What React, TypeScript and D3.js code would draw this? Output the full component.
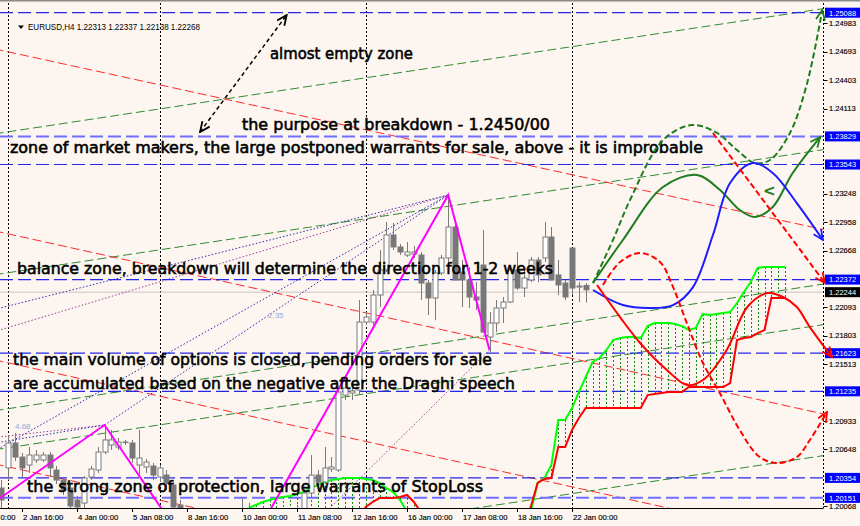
import React from "react";
import * as d3 from "d3";

// ---------------- data ----------------
const opens = [
  1.20251, 1.20455, 1.20709, 1.20566, 1.20485, 1.20536, 1.20536, 1.20587, 1.20434, 1.20332,
  1.20251, 1.20129, 1.20098, 1.20363, 1.20434, 1.20617, 1.20689, 1.20668, 1.20719, 1.20709,
  1.20485, 1.20465, 1.20475, 1.20363, 1.20383, 1.20281, 1.20078, 1.19925, 1.1975, 1.1968,
  1.1962, 1.195, 1.1935, 1.1928, 1.1945, 1.1965, 1.1995, 1.196, 1.1955, 1.196,
  1.197, 1.1965, 1.1985, 1.198, 1.199, 1.202, 1.20383, 1.20312, 1.20444, 1.20434,
  1.21197, 1.21218, 1.21248, 1.2194, 1.2194, 1.22215, 1.2247, 1.22826, 1.22704, 1.22622,
  1.22632, 1.22622, 1.22337, 1.22185, 1.22439, 1.22592, 1.22907, 1.22449, 1.22368, 1.22195,
  1.2252, 1.21788, 1.2193, 1.22083, 1.22144, 1.2247, 1.22286, 1.22368, 1.22571, 1.22592,
  1.22805, 1.22419, 1.22337, 1.22693, 1.22296, 1.22313,
];
const highs = [
  1.20332, 1.2079, 1.20811, 1.20607, 1.20668, 1.20638, 1.20617, 1.20617, 1.20475, 1.20353,
  1.20292, 1.2017, 1.20373, 1.20475, 1.20668, 1.20892, 1.20841, 1.2076, 1.2074, 1.2074,
  1.20841, 1.20546, 1.20506, 1.20485, 1.20434, 1.20312, 1.20129, 1.1999, 1.1982, 1.1975,
  1.197, 1.1956, 1.1942, 1.195, 1.197, 1.2015, 1.201, 1.1975, 1.197, 1.1975,
  1.198, 1.199, 1.2, 1.2008, 1.2024, 1.20587, 1.20434, 1.20668, 1.20566, 1.21269,
  1.21348, 1.21338, 1.22164, 1.22042, 1.22266, 1.22673, 1.22958, 1.22948, 1.22734, 1.22754,
  1.22714, 1.22653, 1.22368, 1.2247, 1.22622, 1.23233, 1.22948, 1.22571, 1.225, 1.22347,
  1.22876, 1.22042, 1.22164, 1.22195, 1.225, 1.22653, 1.2247, 1.22602, 1.22602, 1.22958,
  1.22907, 1.22571, 1.22368, 1.22693, 1.22347, 1.22337,
];
const lows = [
  1.20048, 1.20332, 1.20526, 1.20363, 1.20404, 1.20506, 1.20516, 1.20363, 1.20292, 1.2018,
  1.20027, 1.20007, 1.20048, 1.20332, 1.20404, 1.20597, 1.20638, 1.20638, 1.20689, 1.20506,
  1.20373, 1.20404, 1.20332, 1.20312, 1.20231, 1.19976, 1.19874, 1.197, 1.196, 1.1955,
  1.1945, 1.193, 1.1915, 1.192, 1.194, 1.196, 1.195, 1.1945, 1.1945, 1.1955,
  1.1955, 1.196, 1.1975, 1.197, 1.1985, 1.2015, 1.20271, 1.20292, 1.20414, 1.20414,
  1.21147, 1.21147, 1.21197, 1.21909, 1.21909, 1.22093, 1.22449, 1.22673, 1.22622, 1.22602,
  1.22592, 1.22164, 1.22011, 1.2196, 1.22419, 1.22541, 1.22368, 1.22093, 1.22083, 1.22062,
  1.21828, 1.21635, 1.21838, 1.2193, 1.22134, 1.22266, 1.22195, 1.22347, 1.22347, 1.22551,
  1.22368, 1.22215, 1.22164, 1.22215, 1.22144, 1.22138,
];
const closes = [
  1.20129, 1.20709, 1.20566, 1.20455, 1.20587, 1.20587, 1.20587, 1.20455, 1.20332, 1.20231,
  1.20068, 1.20058, 1.20353, 1.20444, 1.20617, 1.2074, 1.2074, 1.20719, 1.20715, 1.20556,
  1.20556, 1.20516, 1.20383, 1.20455, 1.20302, 1.20058, 1.19925, 1.1975, 1.1968, 1.1962,
  1.195, 1.1935, 1.1928, 1.1945, 1.1965, 1.1995, 1.196, 1.1955, 1.196, 1.197,
  1.1965, 1.1985, 1.198, 1.199, 1.202, 1.20383, 1.20312, 1.20455, 1.20465, 1.21228,
  1.21269, 1.21238, 1.2194, 1.21991, 1.22215, 1.2247, 1.22826, 1.22704, 1.22653, 1.22653,
  1.22653, 1.22337, 1.22185, 1.22439, 1.22592, 1.22907, 1.22368, 1.22368, 1.22195, 1.22164,
  1.21838, 1.2193, 1.22083, 1.22144, 1.2247, 1.22286, 1.22388, 1.22571, 1.22419, 1.22805,
  1.22368, 1.22317, 1.22195, 1.22286, 1.22307, 1.22268,
];

// Ichimoku cloud (bars 36..114)
const cloudStart = 36;
const spanA = [
  1.20048, 1.20078, 1.20109, 1.20129, 1.20149, 1.2016, 1.2017, 1.2019, 1.2021, 1.20251,
  1.20281, 1.20312, 1.20332, 1.20343, 1.20353, 1.20353, 1.20353, 1.20343, 1.20332, 1.20302,
  1.20251, 1.2021, 1.20129, 1.20007, 1.199, 1.1985, 1.198, 1.198, 1.1978, 1.1976,
  1.1976, 1.198, 1.1985, 1.1988, 1.199, 1.1992, 1.1993, 1.1994, 1.1995, 1.1994,
  1.1993, 1.20007, 1.20302, 1.20353, 1.20485, 1.20943, 1.20943, 1.21065, 1.21228, 1.21381,
  1.21533, 1.21574, 1.21656, 1.21757, 1.21777, 1.21788, 1.21788, 1.21777, 1.21899, 1.2193,
  1.2193, 1.2193, 1.2192, 1.21899, 1.21859, 1.21879, 1.22022, 1.22011, 1.22022, 1.22032,
  1.22042, 1.22134, 1.22246, 1.22347, 1.2249, 1.225, 1.225, 1.225, 1.225,
];
const spanB = [
  1.1975, 1.1975, 1.1975, 1.1975, 1.1975, 1.1975, 1.1975, 1.1975, 1.1975, 1.1975,
  1.1975, 1.1975, 1.1975, 1.1975, 1.1975, 1.1975, 1.1995, 1.20058, 1.20109, 1.20149,
  1.20149, 1.20149, 1.2016, 1.2018, 1.20109, 1.20007, 1.1995, 1.1995, 1.1995, 1.1995,
  1.1995, 1.1995, 1.1995, 1.1995, 1.1995, 1.1995, 1.1995, 1.1995, 1.1995, 1.1995,
  1.1996, 1.20058, 1.20302, 1.20343, 1.20353, 1.20668, 1.20668, 1.20841, 1.20963, 1.21065,
  1.21065, 1.21065, 1.21065, 1.21065, 1.21065, 1.21065, 1.21065, 1.21065, 1.21197, 1.21208,
  1.21218, 1.21228, 1.21228, 1.21228, 1.21279, 1.21279, 1.21279, 1.21279, 1.21279, 1.21279,
  1.21319, 1.21757, 1.21777, 1.21788, 1.21828, 1.21859, 1.22185, 1.22185, 1.22185,
];

// ZigZag
const zigzagBars = [-1, 15, 32, 65, 71];
const zigzagPrices = [1.20109, 1.20892, 1.1915, 1.23233, 1.21655];

// Horizontal levels
const levelPrices = [1.25088, 1.23829, 1.23543, 1.22372, 1.21623, 1.21235, 1.20354, 1.20151];
const strongLevels = [1.23829, 1.20151];
const lastPrice = 1.22244;

// Price axis
const yTickValues = [
  1.24983, 1.24693, 1.24403, 1.24113, 1.23248, 1.22958, 1.22668, 1.22093, 1.21803, 1.21513,
  1.20933, 1.20648, 1.20068,
];

// Time axis (first label is cut by the left edge in the original, only its tail shows)
const timeTickBars = [-5, 3, 11, 19, 27, 35, 43, 51, 59, 67, 75, 83];
const timeTickLabels = [
  "0:00", "2 Jan 16:00", "4 Jan 00:00", "5 Jan 08:00", "8 Jan 16:00", "10 Jan 00:00",
  "11 Jan 08:00", "12 Jan 16:00", "16 Jan 00:00", "17 Jan 08:00", "18 Jan 16:00", "22 Jan 00:00",
];
const separatorBars = [1, 23, 53, 83];

// Trend lines [bar, price] -> [bar, price]
const greenTrends = [
  [[-1, 1.23855], [120, 1.25134]],
  [[-1, 1.22421], [120, 1.23699]],
  [[-1, 1.21037], [120, 1.22331]],
  [[-1, 1.2064], [120, 1.21918]],
  [[-1, 1.19307], [120, 1.20585]],
];
const redTrends = [
  [[-1, 1.2472], [120, 1.22875]],
  [[-1, 1.22868], [120, 1.20998]],
  [[-1, 1.21556], [120, 1.19693]],
  [[-1, 1.20497], [120, 1.18635]],
];
// dotted fan lines
const blueDotted = [
  [[-1, 1.22068], [65, 1.23233]],
  [[-1, 1.20628], [65, 1.23233]],
  [[15, 1.20892], [65, 1.23233]],
  [[-1, 1.20709], [15, 1.20892]],
];
const purpleDotted = [
  [[-1, 1.21843], [65, 1.23233]],
  [[-1, 1.20765], [15, 1.20892]],
  [[71, 1.21655], [45, 1.19854]],
];

// Forecast curves
const greenDashed = [
  [86.05, 1.22337], [88.96, 1.22775], [91.44, 1.23182], [96.24, 1.23792], [100.45, 1.23945],
  [104.09, 1.23864], [107.0, 1.2369], [109.6, 1.23558], [111.8, 1.23589], [114.7, 1.23864],
  [117.2, 1.24371], [119.4, 1.25115],
];
const greenSolid = [
  [86.05, 1.22337], [90.4, 1.22775], [96.24, 1.23314], [101.18, 1.23436], [104.53, 1.23284],
  [107.4, 1.2308], [109.6, 1.23009], [112.2, 1.23111], [115.1, 1.23457], [119.1, 1.23823],
];
const blueSolid = [
  [86.05, 1.22266], [90.4, 1.22113], [94.35, 1.22083], [97.7, 1.22113], [100.6, 1.22296],
  [103.5, 1.22826], [106.0, 1.23355], [109.3, 1.23558], [112.2, 1.23457], [115.7, 1.23151],
  [119.5, 1.22775],
];
const redSolid = [
  [86.64, 1.22317], [89.98, 1.21991], [92.9, 1.21727], [96.8, 1.21452], [99.73, 1.21299],
  [102.05, 1.2135], [105.5, 1.21656], [108.5, 1.22093], [111.4, 1.22235], [113.7, 1.22195],
  [115.7, 1.22093], [117.6, 1.21889], [120.8, 1.21584],
];
const redDashed = [
  [87.5, 1.22317], [90.0, 1.22551], [92.9, 1.22643], [95.8, 1.22551], [97.7, 1.22296],
  [99.7, 1.2193], [102.05, 1.21523], [104.5, 1.21218], [107.4, 1.20841], [110.3, 1.20566],
  [112.96, 1.20505], [115.7, 1.20566], [117.6, 1.2074], [120.1, 1.21025],
];
const redDashedStraight = [[103.5, 1.23864], [119.8, 1.22337]];
const blackArrow = [[28.9, 1.23874], [41.5, 1.25064]];

const headerText = "EURUSD,H4  1.22313 1.22337 1.22138 1.22268";
const notes = [
  "almost empty zone",
  "the purpose at breakdown - 1.2450/00",
  "zone of market makers, the large postponed warrants for sale, above - it is improbable",
  "balance zone, breakdown will determine the direction for 1-2 weeks",
  "the main volume of options is closed, pending orders for sale",
  "are accumulated based on the negative after the Draghi speech",
  "the strong zone of protection, large warrants of StopLoss",
];

// ---------------- chart ----------------
const W = 860;
const H = 526;
const PR = 823.5; // plot right
const PT = 3;
const PB = 508;

const xScale = d3.scaleLinear().domain([0, 120]).range([1.375, 826.375]);
const yScale = d3.scaleLinear().domain([1.20068, 1.25088]).range([506, 12.7]);

const curve = d3
  .line<number[]>()
  .x((d) => xScale(d[0]))
  .y((d) => yScale(d[1]))
  .curve(d3.curveCatmullRom.alpha(0.5));
const straight = d3
  .line<number[]>()
  .x((d) => xScale(d[0]))
  .y((d) => yScale(d[1]));

const BG = "#fdf6f0";
const NOTE_FONT = "'DejaVu Sans', sans-serif";
const AX_FONT = "'Liberation Sans', Arial, sans-serif";

function Marker({ id, color }: { id: string; color: string }) {
  return (
    <marker
      id={id}
      viewBox="0 0 12 12"
      refX="11"
      refY="6"
      markerWidth="12"
      markerHeight="12"
      markerUnits="userSpaceOnUse"
      orient="auto-start-reverse"
    >
      <path d="M1,1.5 L11,6 L1,10.5" fill="none" stroke={color} strokeWidth="1.8" />
    </marker>
  );
}

export default function App() {
  const cloudBars = spanA.map((_, k) => cloudStart + k);
  const spanLine = d3
    .line<number>()
    .x((_, k) => xScale(cloudStart + k))
    .y((d) => yScale(d));

  const zz = zigzagBars.map((b, k) => [b, zigzagPrices[k]]);

  const notePos = [
    [270, 59, 143],
    [242, 130, 308],
    [10, 153, 693],
    [17, 274, 536],
    [13, 365, 479],
    [13, 389, 502],
    [27, 492, 456],
  ];

  return (
    <svg
      width={W}
      height={H}
      style={{ position: "absolute", left: 0, top: 0, background: BG }}
      xmlns="http://www.w3.org/2000/svg"
    >
      <defs>
        <clipPath id="plot">
          <rect x={0} y={PT} width={PR} height={PB - PT} />
        </clipPath>
        <Marker id="mGreen" color="#1f7d1f" />
        <Marker id="mBlue" color="#1c1cff" />
        <Marker id="mRed" color="#ff0000" />
        <Marker id="mBlack" color="#000000" />
      </defs>
      <rect x={0} y={0} width={W} height={H} fill={BG} />
      <line x1={0} x2={W} y1={0.5} y2={0.5} stroke="#8a8a8a" strokeWidth={2} />

      <g clipPath="url(#plot)">
        {separatorBars.map((b) => (
          <line
            key={"sep" + b}
            x1={Math.round(xScale(b)) + 0.5}
            x2={Math.round(xScale(b)) + 0.5}
            y1={PT}
            y2={PB}
            stroke="#000"
            strokeDasharray="2,2"
          />
        ))}

        <line x1={0} x2={PR} y1={yScale(lastPrice)} y2={yScale(lastPrice)} stroke="#c8c4c0" />

        {greenTrends.map((t, k) => (
          <path key={"g" + k} d={straight(t)!} stroke="#2f8a2f" strokeWidth={1} fill="none" strokeDasharray="9,4" />
        ))}
        {redTrends.map((t, k) => (
          <path key={"r" + k} d={straight(t)!} stroke="#ff2a2a" strokeWidth={1} fill="none" strokeDasharray="9,4" />
        ))}
        {blueDotted.map((t, k) => (
          <path key={"bd" + k} d={straight(t)!} stroke="#2a2aa8" strokeWidth={1} fill="none" strokeDasharray="1.5,2" />
        ))}
        {purpleDotted.map((t, k) => (
          <path key={"pd" + k} d={straight(t)!} stroke="#9a3a9a" strokeWidth={1} fill="none" strokeDasharray="1.5,2" />
        ))}

        {levelPrices.map((p) => {
          const strong = strongLevels.includes(p);
          return (
            <line
              key={"lv" + p}
              x1={0}
              x2={PR}
              y1={yScale(p)}
              y2={yScale(p)}
              stroke={strong ? "#6f6fff" : "#2626e8"}
              strokeWidth={strong ? 2 : 1.2}
              strokeDasharray="13,5"
            />
          );
        })}

        {cloudBars.map((b, k) => (
          <line
            key={"h" + b}
            x1={Math.round(xScale(b)) + 0.5}
            x2={Math.round(xScale(b)) + 0.5}
            y1={yScale(spanA[k])}
            y2={yScale(spanB[k])}
            stroke="#138a13"
            strokeDasharray="2,2"
          />
        ))}
        <path d={spanLine(spanA)!} stroke="#00ff00" strokeWidth={2} fill="none" />
        <path d={spanLine(spanB)!} stroke="#ff0000" strokeWidth={2} fill="none" />

        {opens.map((o, i) => {
          const c = closes[i];
          const cx = Math.round(xScale(i)) + 0.5;
          const yo = yScale(o);
          const yc = yScale(c);
          const top = Math.min(yo, yc);
          const bot = Math.max(yo, yc);
          const bull = c >= o;
          return (
            <g key={"c" + i}>
              <line x1={cx} x2={cx} y1={yScale(highs[i])} y2={yScale(lows[i])} stroke="#7a7a7a" />
              <rect
                x={cx - 2.5}
                y={top}
                width={5}
                height={Math.max(bot - top, 0.5)}
                fill={bull ? "#ffffff" : "#777777"}
                stroke="#7a7a7a"
              />
            </g>
          );
        })}

        <path d={straight(zz)!} stroke="#ff00ff" strokeWidth={2} fill="none" />

        <text x={15} y={429} fontSize={8} fill="#8ea9d6" fontFamily={AX_FONT}>4.68</text>
        <text x={268} y={318} fontSize={8} fill="#8ea9d6" fontFamily={AX_FONT}>2.35</text>
      </g>

      <path d="M18,25.5 L24,25.5 L21,29 Z" fill="#000" />
      <text x={28} y={30} fontSize={9} fontFamily={AX_FONT} textLength={172} lengthAdjust="spacingAndGlyphs">
        {headerText}
      </text>

      {notes.map((t, k) => (
        <text
          key={"n" + k}
          x={notePos[k][0]}
          y={notePos[k][1]}
          fontSize={15.5}
          fontFamily={NOTE_FONT}
          fill="#000"
          stroke="#000"
          strokeWidth={0.55}
          textLength={notePos[k][2]}
          lengthAdjust="spacingAndGlyphs"
        >
          {t}
        </text>
      ))}

      <line x1={0} x2={PR} y1={PB + 0.5} y2={PB + 0.5} stroke="#000" />
      <line x1={PR} x2={PR} y1={PT} y2={PB} stroke="#000" strokeDasharray="2,2" />
      {timeTickBars.map((b, k) => {
        const x = Math.round(xScale(b)) + 0.5;
        const first = k === 0;
        return (
          <g key={"tt" + k}>
            <line x1={x} x2={x} y1={PB} y2={PB + 4} stroke="#000" />
            <text
              x={first ? 0.5 : x + 0.5}
              y={519.5}
              fontSize={7.7}
              fontFamily={AX_FONT}
              fill="#000"
              stroke="#000"
              strokeWidth={0.15}
            >
              {timeTickLabels[k]}
            </text>
          </g>
        );
      })}
      {yTickValues.map((p) => (
        <g key={"yt" + p}>
          <line x1={PR} x2={PR + 4} y1={Math.round(yScale(p)) + 0.5} y2={Math.round(yScale(p)) + 0.5} stroke="#000" />
          <text x={829} y={yScale(p) + 2.8} fontSize={7.5} fontFamily={AX_FONT} fill="#000" stroke="#000" strokeWidth={0.15}>
            {p.toFixed(5)}
          </text>
        </g>
      ))}
      {levelPrices.map((p) => (
        <g key={"lb" + p}>
          <rect x={825} y={yScale(p) - 5} width={35} height={10} fill="#0000ff" />
          <text x={829} y={yScale(p) + 2.8} fontSize={7.5} fontFamily={AX_FONT} fill="#fff">
            {p.toFixed(5)}
          </text>
        </g>
      ))}
      <rect x={825} y={yScale(lastPrice) - 5} width={35} height={10} fill="#000" />
      <text x={829} y={yScale(lastPrice) + 2.8} fontSize={7.5} fontFamily={AX_FONT} fill="#fff">
        {lastPrice.toFixed(5)}
      </text>

      <path d={curve(greenDashed)!} stroke="#1f7d1f" strokeWidth={2} fill="none" strokeDasharray="6,3" markerEnd="url(#mGreen)" />
      <path d={curve(greenSolid)!} stroke="#1f7d1f" strokeWidth={2} fill="none" markerEnd="url(#mGreen)" />
      <path d={curve(blueSolid)!} stroke="#1c1cff" strokeWidth={2} fill="none" markerEnd="url(#mBlue)" />
      <path d={curve(redSolid)!} stroke="#ff0000" strokeWidth={2} fill="none" markerEnd="url(#mRed)" />
      <path d={curve(redDashed)!} stroke="#ff0000" strokeWidth={2} fill="none" strokeDasharray="6,3" markerEnd="url(#mRed)" />
      <path d={straight(redDashedStraight)!} stroke="#ff0000" strokeWidth={2} fill="none" strokeDasharray="6,3" markerEnd="url(#mRed)" />
      <path
        d={straight(blackArrow)!}
        stroke="#000"
        strokeWidth={1.5}
        fill="none"
        strokeDasharray="4,3"
        markerEnd="url(#mBlack)"
        markerStart="url(#mBlack)"
      />
      <text x={763} y={196} fontSize={15} fontWeight="bold" fill="#1f7d1f" fontFamily={NOTE_FONT}>
        &lt;
      </text>
    </svg>
  );
}
